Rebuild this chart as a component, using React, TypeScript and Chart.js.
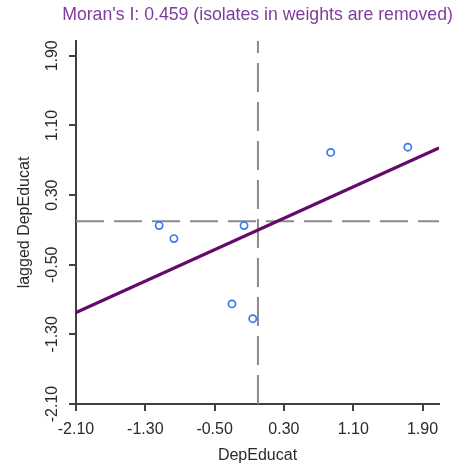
import React, { useEffect, useRef } from "react";
import { Chart, registerables } from "chart.js";

Chart.register(...registerables);

const TITLE = "Moran's I: 0.459 (isolates in weights are removed)";
const X_LABEL = "DepEducat";
const Y_LABEL = "lagged DepEducat";

// observed (standardized) values and their spatial lags
const X_VALUES = [-1.14, -0.97, -0.16, 0.84, 1.73, -0.3, -0.06];
const Y_VALUES = [-0.05, -0.2, -0.05, 0.79, 0.85, -0.95, -1.12];

const TICK_VALUES = [-2.1, -1.3, -0.5, 0.3, 1.1, 1.9];
const X_RANGE = [-2.1, 2.09];
const Y_RANGE = [-2.1, 2.07];

// regression (Moran) line end points
const REG_X = [-2.1, 2.09];
const REG_Y = [-1.05, 0.84];

// means of the two variables (dashed reference lines)
const MEAN_X = 0;
const MEAN_Y = 0;

const FONT = "'Liberation Sans', Arial, sans-serif";
const AXIS_COLOR = "#404040";
const TEXT_COLOR = "#2a2a2a";
const TITLE_COLOR = "#7f3c9e";

// Title centred over the plot area (wider than the plot area itself)
const titlePlugin = {
  id: "centredTitle",
  afterDraw(chart: any) {
    const { ctx, chartArea } = chart;
    ctx.save();
    ctx.font = `17.7px ${FONT}`;
    ctx.fillStyle = TITLE_COLOR;
    ctx.textAlign = "center";
    ctx.textBaseline = "middle";
    ctx.fillText(TITLE, (chartArea.left + chartArea.right) / 2, 15.5);
    ctx.restore();
  },
};

export default function App() {
  const ref = useRef<HTMLCanvasElement | null>(null);

  useEffect(() => {
    if (!ref.current) return;
    const tickFix = (scale: any) => {
      scale.ticks = TICK_VALUES.map((v) => ({ value: v }));
    };
    const axisCommon = (min: number, max: number) => ({
      type: "linear" as const,
      min,
      max,
      afterBuildTicks: tickFix,
      border: { display: true, color: AXIS_COLOR, width: 2 },
      grid: {
        drawOnChartArea: false,
        drawTicks: true,
        tickLength: 7,
        color: AXIS_COLOR,
        lineWidth: 2,
      },
    });

    const chart = new Chart(ref.current, {
      type: "scatter",
      data: {
        datasets: [
          {
            label: "points",
            data: X_VALUES.map((x, i) => ({ x, y: Y_VALUES[i] })),
            pointStyle: "circle",
            pointRadius: 3.6,
            pointBorderWidth: 1.7,
            pointBorderColor: "#3a78f0",
            pointBackgroundColor: "rgba(255,255,255,0)",
            borderColor: "#3a78f0",
            backgroundColor: "rgba(255,255,255,0)",
            order: 0,
          },
          {
            label: "regression",
            data: REG_X.map((x, i) => ({ x, y: REG_Y[i] })),
            showLine: true,
            borderColor: "#640a6c",
            borderWidth: 3.2,
            pointRadius: 0,
            order: 1,
          },
          {
            label: "meanY",
            data: [
              { x: X_RANGE[0], y: MEAN_Y },
              { x: X_RANGE[1], y: MEAN_Y },
            ],
            showLine: true,
            borderColor: "#8a8a8a",
            borderWidth: 2,
            borderDash: [28, 10],
            pointRadius: 0,
            order: 2,
          },
          {
            label: "meanX",
            data: [
              { x: MEAN_X, y: Y_RANGE[0] },
              { x: MEAN_X, y: Y_RANGE[1] },
            ],
            showLine: true,
            borderColor: "#8a8a8a",
            borderWidth: 2,
            borderDash: [29, 10],
            pointRadius: 0,
            order: 3,
          },
        ],
      },
      options: {
        responsive: false,
        animation: false,
        events: [],
        layout: { padding: { left: 0, right: 17, top: 41, bottom: 0 } },
        plugins: {
          legend: { display: false },
          tooltip: { enabled: false },
          title: { display: false },
        },
        scales: {
          x: {
            ...axisCommon(X_RANGE[0], X_RANGE[1]),
            afterFit: (s: any) => {
              s.height = 62;
            },
            ticks: {
              color: TEXT_COLOR,
              font: { family: FONT, size: 16 },
              padding: 9,
              maxRotation: 0,
              minRotation: 0,
              autoSkip: false,
              callback: (v: any) => Number(v).toFixed(2),
            },
            title: {
              display: true,
              text: X_LABEL,
              color: TEXT_COLOR,
              font: { family: FONT, size: 16 },
              padding: { top: 0, bottom: 1 },
            },
          },
          y: {
            ...axisCommon(Y_RANGE[0], Y_RANGE[1]),
            afterFit: (s: any) => {
              s.width = 76;
            },
            ticks: {
              color: TEXT_COLOR,
              font: { family: FONT, size: 16 },
              padding: -2,
              minRotation: 90,
              maxRotation: 90,
              crossAlign: "center",
              autoSkip: false,
              callback: (v: any) => Number(v).toFixed(2),
            },
            title: {
              display: true,
              text: Y_LABEL,
              color: TEXT_COLOR,
              font: { family: FONT, size: 16 },
              padding: { top: 15, bottom: 0 },
            },
          },
        },
      },
      plugins: [titlePlugin],
    } as any);
    return () => chart.destroy();
  }, []);

  return (
    <div style={{ position: "fixed", left: 0, top: 0, width: 456, height: 466, background: "#fff" }}>
      <canvas ref={ref} width={456} height={466} style={{ display: "block" }} />
    </div>
  );
}
